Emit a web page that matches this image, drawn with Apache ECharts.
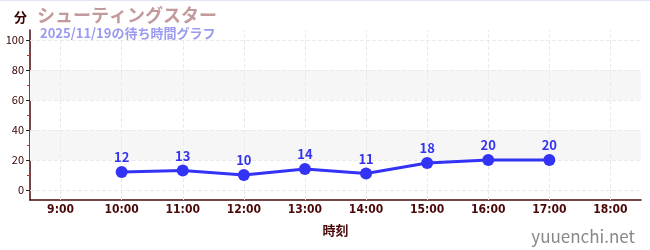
<!DOCTYPE html>
<html>
<head>
<meta charset="utf-8">
<script src="https://cdn.jsdelivr.net/npm/echarts@6/dist/echarts.min.js"></script>
<style>
html,body{margin:0;padding:0;background:#fff;}
#chart{width:650px;height:250px;border-top:1px solid #e4e4f8;box-sizing:border-box;}
</style>
</head>
<body>
<div id="chart"></div>
<script>
// Hourly wait times (minutes)
const hours = ['9:00','10:00','11:00','12:00','13:00','14:00','15:00','16:00','17:00','18:00'];
const waitMinutes = [null, 12, 13, 10, 14, 11, 18, 20, 20, null];
const yTicks = [0, 20, 40, 60, 80, 100];
const yMinorTicks = [10, 30, 50, 70, 90];
const shadedBands = [[20, 40], [60, 80]];

const Y_MIN = -6.7, Y_MAX = 106.7;
const axisRed = '#4a0808';
const font = '"Noto Sans CJK JP", "Noto Sans", sans-serif';
const narrow = '"Liberation Sans Narrow", "DejaVu Sans Condensed", sans-serif';

const gridLines = yTicks.map(v => ({yAxis: v})).concat(hours.map(h => ({xAxis: h})));

const chart = echarts.init(document.getElementById('chart'), null, {renderer: 'canvas'});
chart.setOption({
  animation: false,
  grid: {left: 30, right: 9, top: 29, bottom: 50},
  title: [
    {text: 'シューティングスター', left: 32, top: 0,
     textStyle: {color: '#c4999b', fontSize: 18, fontWeight: 'bold', fontFamily: font}},
    {text: '2025/11/19の待ち時間グラフ', left: 35, top: 21,
     textStyle: {color: '#9a9af0', fontSize: 13, fontWeight: 'bold', fontFamily: font}},
    {text: '分', left: 9, top: 5,
     textStyle: {color: '#3a0000', fontSize: 13, fontWeight: 'bold', fontFamily: font}},
    {text: 'yuuenchi.net', right: 10, top: 222,
     textStyle: {color: '#888888', fontSize: 17, fontWeight: 'normal', fontFamily: font}}
  ],
  xAxis: {
    type: 'category',
    data: hours,
    boundaryGap: true,
    name: '時刻',
    nameLocation: 'middle',
    nameGap: 24,
    nameTextStyle: {color: axisRed, fontSize: 13, fontWeight: 'bold', fontFamily: font},
    axisLine: {onZero: false, lineStyle: {color: axisRed, width: 1.5}},
    axisTick: {alignWithLabel: true, length: 4, lineStyle: {color: '#777', width: 2}},
    axisLabel: {color: axisRed, fontSize: 12, fontWeight: 'bold', fontFamily: narrow, margin: 4},
    splitLine: {show: false}
  },
  yAxis: [
    {
      type: 'value', min: Y_MIN, max: Y_MAX,
      axisLine: {show: true, onZero: false, lineStyle: {color: axisRed, width: 1.5}},
      axisTick: {show: true, length: 4, customValues: yTicks, lineStyle: {color: '#222'}},
      axisLabel: {color: '#3a0000', fontSize: 11, fontFamily: font, margin: 6, customValues: yTicks},
      splitLine: {show: false}
    },
    {
      // inner tick halves on the same left axis
      type: 'value', min: Y_MIN, max: Y_MAX, position: 'left', offset: 0,
      axisLine: {show: false, onZero: false},
      axisTick: {show: true, inside: true, length: 4, customValues: yTicks, lineStyle: {color: '#222'}},
      axisLabel: {show: false},
      splitLine: {show: false}
    },
    {
      // red minor ticks
      type: 'value', min: Y_MIN, max: Y_MAX, position: 'left', offset: 0,
      axisLine: {show: false, onZero: false},
      axisTick: {show: true, length: 3, customValues: yMinorTicks, lineStyle: {color: '#e02020'}},
      axisLabel: {show: false},
      splitLine: {show: false}
    }
  ],
  series: [
    {
      type: 'line',
      data: waitMinutes,
      connectNulls: false,
      symbol: 'circle',
      symbolSize: 12,
      lineStyle: {color: '#3333f5', width: 3},
      itemStyle: {color: '#3333f5'},
      label: {show: true, position: 'top', distance: 2, color: '#3333f0',
              fontSize: 13, fontWeight: 'bold', fontFamily: font},
      markArea: {
        silent: true,
        itemStyle: {color: '#f6f6f6'},
        data: shadedBands.map(b => [{yAxis: b[0]}, {yAxis: b[1]}])
      },
      markLine: {
        silent: true, symbol: 'none', label: {show: false},
        lineStyle: {color: '#eaeaea', type: 'dashed', width: 1},
        data: gridLines
      },
      z: 5
    }
  ]
});
</script>
</body>
</html>
